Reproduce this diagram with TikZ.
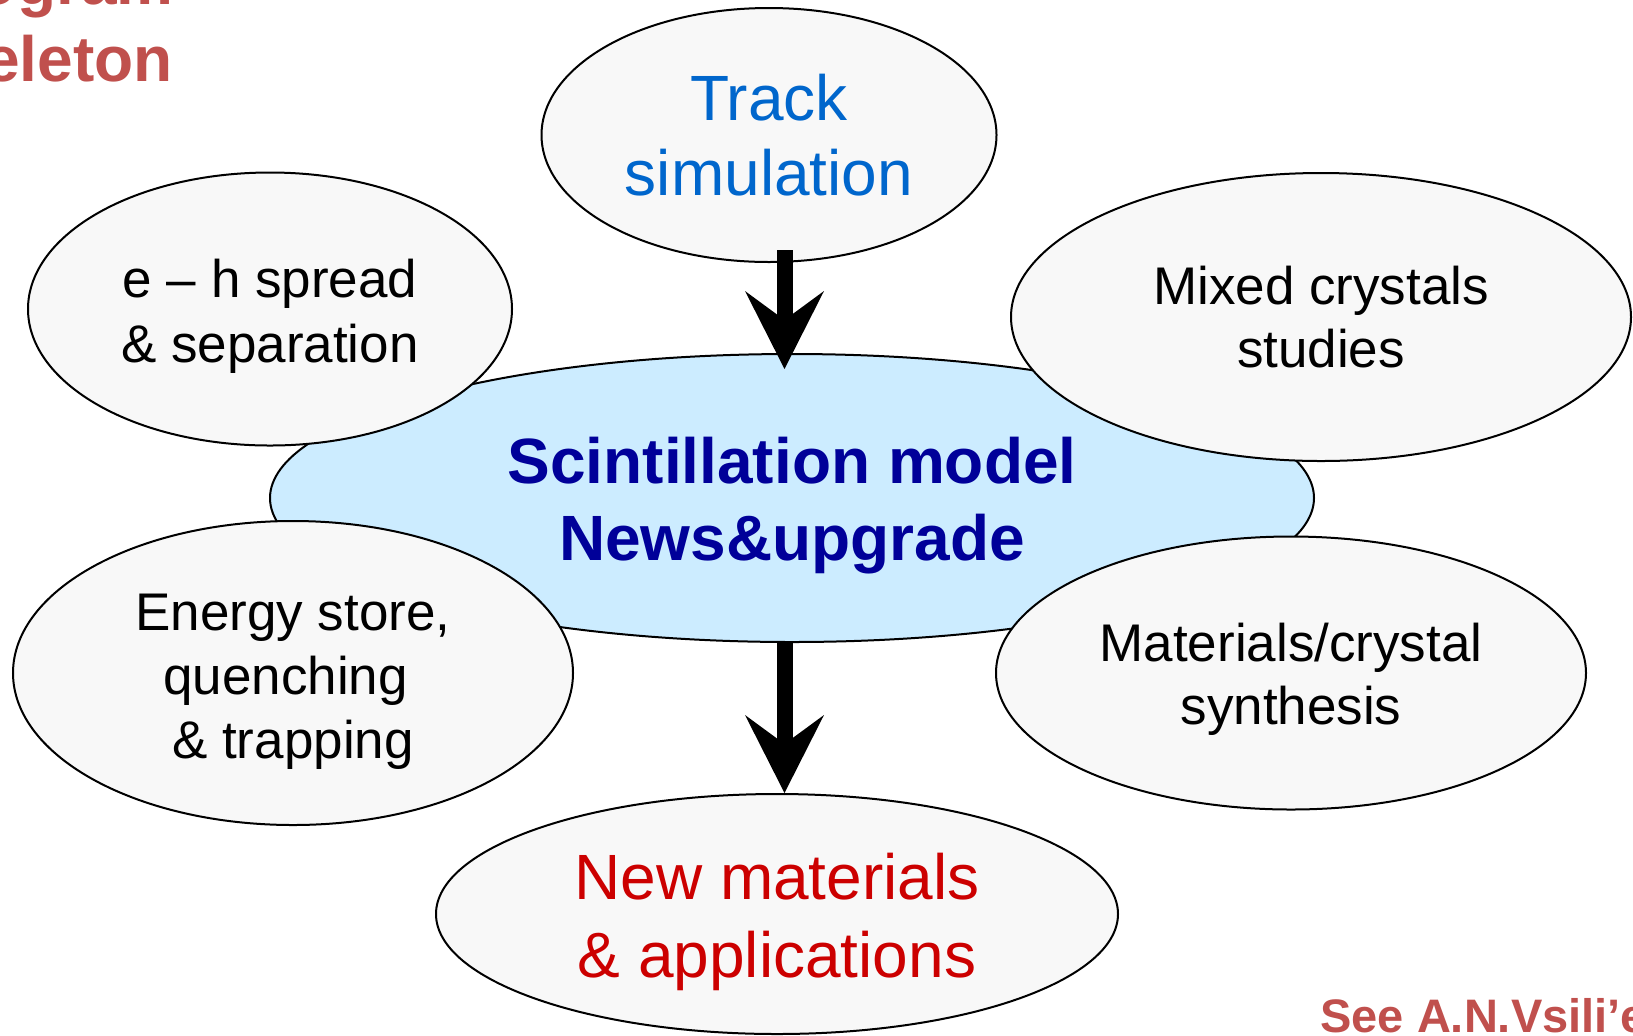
\documentclass[tikz,border=0pt]{standalone}
\usepackage{fontspec}
\setmainfont{Liberation Sans}
\usetikzlibrary{shapes.geometric,arrows.meta}
\definecolor{bubblegray}{RGB}{248,248,248}
\definecolor{coreblue}{RGB}{204,236,255}
\definecolor{trackblue}{RGB}{0,102,204}
\definecolor{coretext}{RGB}{0,0,153}
\definecolor{newred}{RGB}{204,0,0}
\definecolor{notered}{RGB}{192,80,77}
% invisible strut that pushes the text block of a bubble down
\newcommand{\dropby}[1]{\rule{0pt}{\dimexpr0.73em+#1\relax}}
\begin{document}
\begin{tikzpicture}[x=0.5pt,y=-0.5pt,
		bubble/.style={ellipse,draw=black,line width=1pt,fill=bubblegray,inner sep=0pt,align=center,
			font=\fontsize{26.5pt}{32pt}\selectfont},
		core/.style={ellipse,draw=black,line width=1pt,fill=coreblue,inner sep=0pt,align=center,
			text=coretext,font=\bfseries\fontsize{32pt}{38.5pt}\selectfont},
		bigarrow/.style={line width=8pt,-{Stealth[length=39pt,width=39.5pt,inset=14.5pt,line width=0pt]}},
		note/.style={text=notered,inner sep=0pt,font=\bfseries\fontsize{32pt}{38pt}\selectfont}]
		\useasboundingbox (0,0) rectangle (1633,1035);
		\clip (0,0) rectangle (1633,1035);
		%title in the corner
		\node[note,anchor=base east] (titletop) at (174,4) {Program};
		\node[note,anchor=base east] (titlebot) at (173,81) {skeleton};
		%central model
		\node[core,minimum width=522pt,minimum height=144pt] (core) at (792,498) {\dropby{7.8pt}Scintillation model\\News\&upgrade};
		%surrounding topics
		\node[bubble,minimum width=227.5pt,minimum height=127pt,text=trackblue,
			font=\fontsize{32pt}{37.5pt}\selectfont] (track) at (769,135) {Track\\simulation};
		\node[bubble,minimum width=242pt,minimum height=136.5pt,
			font=\fontsize{26.5pt}{32.5pt}\selectfont] (spread) at (270,309) {\dropby{7.2pt}e -- h spread\\\& separation};
		\node[bubble,minimum width=310pt,minimum height=144pt,
			font=\fontsize{26.5pt}{31.5pt}\selectfont] (mixed) at (1321,317) {Mixed crystals\\studies};
		\node[bubble,minimum width=280pt,minimum height=152pt] (energy) at (293,673) {\dropby{7.8pt}Energy store,\\quenching\kern.278em\\\& trapping};
		\node[bubble,minimum width=295pt,minimum height=136.5pt,
			font=\fontsize{26.5pt}{31.5pt}\selectfont] (synth) at (1291,673) {\dropby{6.2pt}Materials/crystal\\synthesis};
		\node[bubble,minimum width=341pt,minimum height=120pt,text=newred,
			font=\fontsize{32pt}{39pt}\selectfont] (newmat) at (777,914) {\dropby{7.8pt}New materials\\\& applications};
		%arrows
		\coordinate (axis) at (784.5,0);
		\draw[bigarrow,shorten <=-6.5pt,shorten >=-8pt] (track.south -| axis) -- (core.north -| axis);
		\draw[bigarrow] (core.south -| axis) -- (newmat.north -| axis);
		%reference note
		\node[note,anchor=base west,font=\bfseries\fontsize{23.5pt}{28pt}\selectfont] (seenote) at (1320,1032) {See A.N.Vsili’ev};
	\end{tikzpicture}
\end{document}
